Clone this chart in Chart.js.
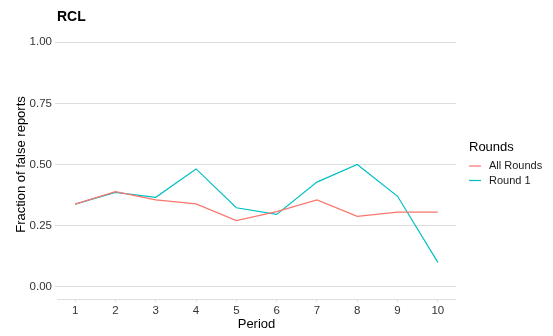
<!DOCTYPE html>
<html>
<head>
<meta charset="utf-8">
<script src="https://cdn.jsdelivr.net/npm/chart.js@4/dist/chart.umd.min.js"></script>
<style>
  html, body { margin: 0; padding: 0; background: #ffffff; }
  #wrap { width: 553px; height: 336px; }
</style>
</head>
<body>
<div id="wrap"><canvas id="c" width="553" height="336"></canvas></div>
<script>
// Fraction of false reports per period
const periods = [1, 2, 3, 4, 5, 6, 7, 8, 9, 10];
const allRounds = [0.338, 0.389, 0.355, 0.339, 0.271, 0.307, 0.355, 0.288, 0.305, 0.305];
const round1 = [0.338, 0.386, 0.366, 0.482, 0.323, 0.296, 0.428, 0.500, 0.370, 0.100];
const yTicks = [0, 0.25, 0.5, 0.75, 1];
const seriesNames = ['All Rounds', 'Round 1'];
const seriesColors = ['#F8766D', '#00BFC4'];

const FONT = '"Liberation Sans", Arial, sans-serif';

function toPoints(vals) {
  return periods.map((p, i) => ({ x: p, y: vals[i] }));
}

// Panel title and legend drawn around the plot panel
const decorations = {
  id: 'decorations',
  afterDraw(chart) {
    const ctx = chart.ctx;
    const area = chart.chartArea;
    ctx.save();
    ctx.fillStyle = '#000000';
    ctx.font = 'bold 14px ' + FONT;
    ctx.textBaseline = 'alphabetic';
    ctx.textAlign = 'left';
    ctx.fillText('RCL', area.left, 21);

    ctx.font = '13px ' + FONT;
    ctx.textBaseline = 'middle';
    ctx.fillText('Rounds', 469, 147);
    chart.data.datasets.forEach((ds, i) => {
      const y = 166 + i * 14.5;
      ctx.strokeStyle = ds.borderColor;
      ctx.lineWidth = 1.2;
      ctx.beginPath();
      ctx.moveTo(469, y);
      ctx.lineTo(481, y);
      ctx.stroke();
      ctx.fillStyle = '#1a1a1a';
      ctx.font = '11px ' + FONT;
      ctx.fillText(ds.label, 489, y);
    });
    ctx.restore();
  }
};

// Bottom axis line across the panel
const axisLine = {
  id: 'axisLine',
  afterDatasetsDraw(chart) {
    const { ctx, chartArea } = chart;
    ctx.save();
    ctx.strokeStyle = '#dedede';
    ctx.lineWidth = 1;
    ctx.beginPath();
    ctx.moveTo(chartArea.left, Math.round(chartArea.bottom) + 0.5);
    ctx.lineTo(chartArea.right, Math.round(chartArea.bottom) + 0.5);
    ctx.stroke();
    ctx.restore();
  }
};

new Chart(document.getElementById('c'), {
  type: 'line',
  data: {
    datasets: [
      { label: seriesNames[0], data: toPoints(allRounds), borderColor: seriesColors[0], backgroundColor: seriesColors[0] },
      { label: seriesNames[1], data: toPoints(round1), borderColor: seriesColors[1], backgroundColor: seriesColors[1] }
    ]
  },
  options: {
    responsive: false,
    animation: false,
    devicePixelRatio: 1,
    layout: { padding: { left: 0, right: 97, top: 30, bottom: 0 } },
    elements: {
      line: { borderWidth: 1.2, tension: 0 },
      point: { radius: 0, hoverRadius: 0 }
    },
    plugins: {
      legend: { display: false },
      tooltip: { enabled: false },
      title: { display: false }
    },
    scales: {
      x: {
        type: 'linear',
        min: 0.55,
        max: 10.45,
        afterBuildTicks(axis) { axis.ticks = periods.map(v => ({ value: v })); },
        afterFit(axis) { axis.height = 37; },
        grid: { display: true, drawOnChartArea: false, drawTicks: true, tickLength: 3, tickColor: '#dedede' },
        border: { display: false },
        ticks: {
          color: '#333333',
          font: { family: FONT, size: 11.5 },
          padding: 2,
          maxRotation: 0,
          callback: v => String(v)
        },
        title: {
          display: true,
          text: 'Period',
          color: '#000000',
          font: { family: FONT, size: 13 },
          padding: { top: 0, bottom: 4 }
        }
      },
      y: {
        type: 'linear',
        min: -0.05,
        max: 1.05,
        afterBuildTicks(axis) { axis.ticks = yTicks.map(v => ({ value: v })); },
        afterFit(axis) { axis.width = 57; },
        grid: { color: '#dedede', lineWidth: 1, drawTicks: true, tickLength: 2, tickColor: '#dedede' },
        border: { display: false },
        ticks: {
          color: '#333333',
          font: { family: FONT, size: 11.5 },
          padding: 3,
          callback: v => v.toFixed(2)
        },
        title: {
          display: true,
          text: 'Fraction of false reports',
          color: '#000000',
          font: { family: FONT, size: 13 },
          padding: { top: 14, bottom: 0 }
        }
      }
    }
  },
  plugins: [decorations, axisLine]
});
</script>
</body>
</html>
